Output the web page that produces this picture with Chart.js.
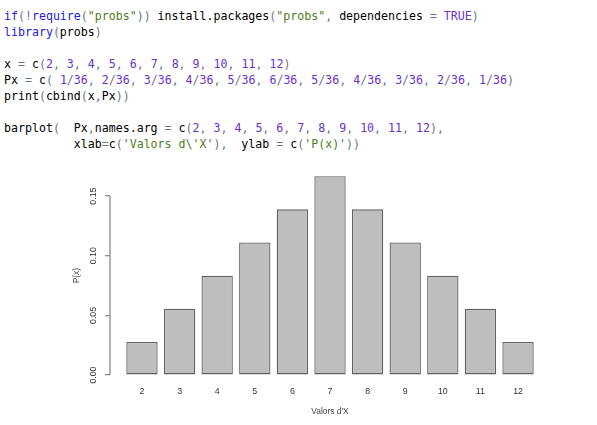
<!DOCTYPE html>
<html>
<head>
<meta charset="utf-8">
<script src="https://cdn.jsdelivr.net/npm/chart.js@4"></script>
<style>
html, body { margin: 0; padding: 0; background: #fff; width: 597px; height: 425px; overflow: hidden; }
#codi {
	position: absolute; left: 4px; top: 7.5px; margin: 0;
	font-family: "DejaVu Sans Mono", monospace; font-size: 11.6px; line-height: 16.08px; color: #000;
}
.kw { color: #2020dd; }
.op { color: #687687; }
.st { color: #4f7c22; }
.nu { color: #6633cc; }
#grafic { position: absolute; left: 0; top: 160px; }
</style>
</head>
<body>
<pre id="codi"><span class="kw">if</span><span class="op">(!</span><span class="kw">require</span><span class="op">(</span><span class="st">"probs"</span><span class="op">))</span> install.packages<span class="op">(</span><span class="st">"probs"</span><span class="op">,</span> dependencies <span class="op">=</span> <span class="nu">TRUE</span><span class="op">)</span>
<span class="kw">library</span><span class="op">(</span>probs<span class="op">)</span>

x <span class="op">=</span> c<span class="op">(</span><span class="nu">2</span><span class="op">,</span> <span class="nu">3</span><span class="op">,</span> <span class="nu">4</span><span class="op">,</span> <span class="nu">5</span><span class="op">,</span> <span class="nu">6</span><span class="op">,</span> <span class="nu">7</span><span class="op">,</span> <span class="nu">8</span><span class="op">,</span> <span class="nu">9</span><span class="op">,</span> <span class="nu">10</span><span class="op">,</span> <span class="nu">11</span><span class="op">,</span> <span class="nu">12</span><span class="op">)</span>
Px <span class="op">=</span> c<span class="op">(</span> <span class="nu">1</span><span class="op">/</span><span class="nu">36</span><span class="op">,</span> <span class="nu">2</span><span class="op">/</span><span class="nu">36</span><span class="op">,</span> <span class="nu">3</span><span class="op">/</span><span class="nu">36</span><span class="op">,</span> <span class="nu">4</span><span class="op">/</span><span class="nu">36</span><span class="op">,</span> <span class="nu">5</span><span class="op">/</span><span class="nu">36</span><span class="op">,</span> <span class="nu">6</span><span class="op">/</span><span class="nu">36</span><span class="op">,</span> <span class="nu">5</span><span class="op">/</span><span class="nu">36</span><span class="op">,</span> <span class="nu">4</span><span class="op">/</span><span class="nu">36</span><span class="op">,</span> <span class="nu">3</span><span class="op">/</span><span class="nu">36</span><span class="op">,</span> <span class="nu">2</span><span class="op">/</span><span class="nu">36</span><span class="op">,</span> <span class="nu">1</span><span class="op">/</span><span class="nu">36</span><span class="op">)</span>
print<span class="op">(</span>cbind<span class="op">(</span>x<span class="op">,</span>Px<span class="op">))</span>

barplot<span class="op">(</span>  Px<span class="op">,</span>names.arg <span class="op">=</span> c<span class="op">(</span><span class="nu">2</span><span class="op">,</span> <span class="nu">3</span><span class="op">,</span> <span class="nu">4</span><span class="op">,</span> <span class="nu">5</span><span class="op">,</span> <span class="nu">6</span><span class="op">,</span> <span class="nu">7</span><span class="op">,</span> <span class="nu">8</span><span class="op">,</span> <span class="nu">9</span><span class="op">,</span> <span class="nu">10</span><span class="op">,</span> <span class="nu">11</span><span class="op">,</span> <span class="nu">12</span><span class="op">),</span>
          xlab<span class="op">=</span>c<span class="op">(</span><span class="st">'Valors d\'X'</span><span class="op">),</span>  ylab <span class="op">=</span> c<span class="op">(</span><span class="st">'P(x)'</span><span class="op">))</span></pre>

<canvas id="grafic" width="597" height="265"></canvas>

<script>
// dades del barplot
var valorsX = ['2', '3', '4', '5', '6', '7', '8', '9', '10', '11', '12'];
var probabilitats = [1/36, 2/36, 3/36, 4/36, 5/36, 6/36, 5/36, 4/36, 3/36, 2/36, 1/36];
var marquesY = [0, 0.05, 0.10, 0.15];
var etiquetesY = ['0.00', '0.05', '0.10', '0.15'];

// com fa barplot() de R: amplada 1, espai 0.2, marge del 4%
var ampladaBarra = 1;
var espai = 0.2;

var centres = valorsX.map(function(v, i) {
	return espai + ampladaBarra / 2 + i * (ampladaBarra + espai);
});
var xEsq = espai;
var xDre = valorsX.length * (ampladaBarra + espai);
var xMarge = 0.04 * (xDre - xEsq);
var yMax = Math.max.apply(null, probabilitats);
var yMarge = 0.04 * yMax;

var lletra = '"Liberation Sans", Arial, sans-serif';

// linia de l'eix Y nomes entre la primera i l'ultima marca, com a R
var eixY = {
	id: 'eixY',
	afterDatasetsDraw: function(chart) {
		var escala = chart.scales.y;
		var ctx = chart.ctx;
		var x = chart.chartArea.left;
		ctx.save();
		ctx.strokeStyle = '#8c8c8c';
		ctx.lineWidth = 1.3;
		ctx.beginPath();
		ctx.moveTo(x, escala.getPixelForValue(marquesY[0]));
		ctx.lineTo(x, escala.getPixelForValue(marquesY[marquesY.length - 1]));
		ctx.stroke();
		ctx.restore();
	}
};

var grafic = new Chart(document.getElementById('grafic'), {
	type: 'bar',
	data: {
		datasets: [{
			data: centres.map(function(c, i) { return { x: c, y: probabilitats[i] }; }),
			backgroundColor: '#bebebe',
			borderColor: '#626262',
			borderWidth: 1.3,
			borderSkipped: false,
			barPercentage: ampladaBarra / (ampladaBarra + espai),
			categoryPercentage: 1
		}]
	},
	options: {
		responsive: false,
		animation: false,
		layout: { padding: { left: 60, right: 47, top: 7, bottom: 0 } },
		plugins: { legend: { display: false }, tooltip: { enabled: false } },
		scales: {
			x: {
				type: 'linear',
				offset: false,
				min: xEsq - xMarge,
				max: xDre + xMarge,
				afterBuildTicks: function(s) {
					s.ticks = centres.map(function(c) { return { value: c }; });
				},
				afterFit: function(s) { s.height = 42; },
				grid: { display: false, drawTicks: false },
				border: { display: false },
				ticks: {
					autoSkip: false,
					maxRotation: 0,
					padding: 3.6,
					color: '#333',
					font: { family: lletra, size: 8.8 },
					callback: function(v, i) { return valorsX[i]; }
				},
				title: {
					display: true,
					text: "Valors d'X",
					color: '#444',
					font: { family: lletra, size: 8.4 },
					padding: { top: 0, bottom: 8.4 }
				}
			},
			y: {
				min: -yMarge,
				max: yMax + yMarge,
				afterBuildTicks: function(s) {
					s.ticks = marquesY.map(function(m) { return { value: m }; });
				},
				afterFit: function(s) { s.width = 50; },
				grid: { drawOnChartArea: false, drawTicks: true, tickLength: 5, color: '#8c8c8c', lineWidth: 1.3 },
				border: { display: false },
				ticks: {
					minRotation: 90,
					maxRotation: 90,
					crossAlign: 'center',
					padding: 3,
					color: '#333',
					font: { family: lletra, size: 8.8 },
					callback: function(v, i) { return etiquetesY[i]; }
				},
				title: {
					display: true,
					text: 'P(x)',
					color: '#444',
					font: { family: lletra, size: 8.4 },
					padding: { top: 11.4, bottom: 0 }
				}
			}
		}
	},
	plugins: [eixY]
});
</script>
</body>
</html>
